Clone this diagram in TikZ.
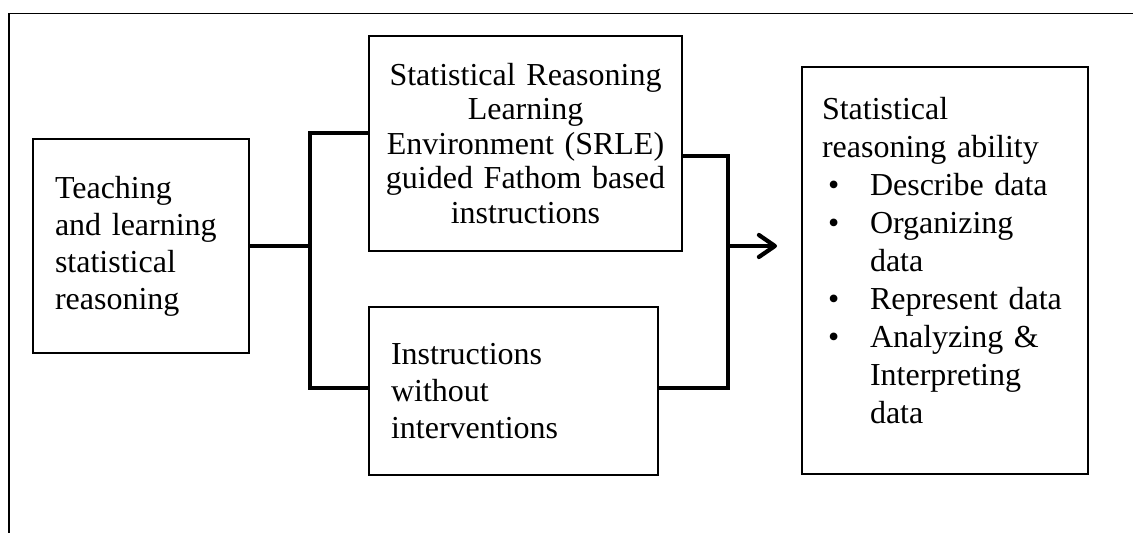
\documentclass[tikz,border=0pt]{standalone}
\usepackage{fontspec}
\setmainfont{Liberation Serif}
\usepackage{tikz}
\usetikzlibrary{arrows.meta}
\newcommand{\abilityitem}[1]{\makebox[24pt][l]{\hspace{3pt}\textbullet}#1}

\begin{document}
\begin{tikzpicture}[x=0.5pt,y=-0.5pt,
  box/.style={draw,line width=0.75pt,inner xsep=11pt,inner ysep=0pt,align=left,
    font=\fontsize{16}{18.5}\selectfont},
  bus/.style={line width=2.1pt},
  >={Straight Barb[length=8pt,width=11pt,round]}]
\useasboundingbox (0,0) rectangle (1133,533);
\draw[line width=0.8pt] (1133,13.5) -- (9,13.5) -- (9,533);

\node[box,text width=86pt,minimum height=107pt] (teach) at (141,246)
  {Teaching\\ and learning\\ statistical\\ reasoning};
\node[box,align=center,text width=146.5pt,inner xsep=5pt,minimum height=107.5pt,
  font=\fontsize{16}{17.25}\selectfont] (srle) at (525.5,143.5)
  {Statistical Reasoning\\ Learning\\ Environment (SRLE)\\ guided Fathom based\\ instructions};
\node[box,text width=122.5pt,minimum height=84pt] (plain) at (513.5,391)
  {Instructions\\ without\\ interventions};
\node[box,text width=123pt,inner xsep=10pt,minimum height=203.5pt,
  font=\fontsize{16}{19}\selectfont] (ability) at (945,270.5)
  {Statistical\\ reasoning ability\\
   \abilityitem{Describe data}\\
   \abilityitem{Organizing}\\ \hspace*{24pt}data\\
   \abilityitem{Represent data}\\
   \abilityitem{Analyzing \&}\\ \hspace*{24pt}Interpreting\\ \hspace*{24pt}data\rule[-10pt]{0pt}{10pt}};

\coordinate (split) at (310,246);
\coordinate (merge) at (728,246);
\coordinate (tip) at (777,246);
\draw[bus] (teach.east) -- (split);
\draw[bus] ([yshift=5.25pt]srle.west) -| (split) |- ([yshift=1.5pt]plain.west);
\draw[bus] ([yshift=-6.25pt]srle.east) -| (merge) |- ([yshift=1.5pt]plain.east);
\draw[bus,->] (merge) -- (tip);
\end{tikzpicture}
\end{document}
